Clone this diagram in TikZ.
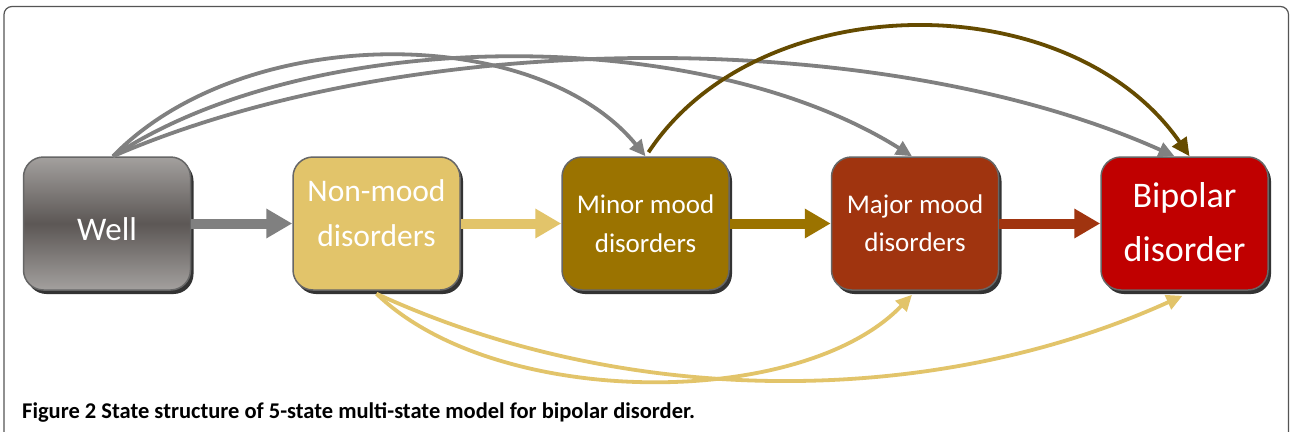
\documentclass[tikz,border=0pt]{standalone}
\usepackage{fontspec}
\setmainfont{Carlito}
\usetikzlibrary{arrows.meta,shadows}
\definecolor{cwellA}{HTML}{A3A09E}
\definecolor{cwellB}{HTML}{5C5755}
\definecolor{cnon}{HTML}{E2C46A}
\definecolor{cminor}{HTML}{9B7300}
\definecolor{cmajor}{HTML}{A0340F}
\definecolor{cbip}{HTML}{C00000}
\definecolor{cgray}{HTML}{808080}
\definecolor{cbrown}{HTML}{654B00}
\definecolor{cframe}{HTML}{555555}
\tikzset{
  statebox/.style={rounded corners=20pt, draw=black!60, line width=1.5pt,
    minimum width=167pt, minimum height=133pt, inner sep=0pt,
    drop shadow={shadow xshift=3pt, shadow yshift=-4pt, fill=black!80, opacity=1}},
  statetxt/.style={text=white, align=center, inner sep=0pt},
  bigarrow/.style={line width=10pt, -{Triangle[length=26pt,width=28pt]}},
  curvearrow/.style={line width=3.8pt, -{Triangle[length=16pt,width=15pt]}},
}
\begin{document}
\begin{tikzpicture}[x=1pt,y=1pt]
\useasboundingbox (0,0) rectangle (1290,-431);
\clip (0,0) rectangle (1290,-431);
\fill[white] (0,0) rectangle (1290,-431);
\draw[cframe, line width=1.2pt, rounded corners=8pt] (4,-445) -- (4,-6.5) -- (1288.5,-6.5) -- (1288.5,-445);

\node[statebox, top color=cwellA, bottom color=cwellA, middle color=cwellB] (well) at (107,-223.5) {};
\node[statebox, fill=cnon] (nonmood) at (376.5,-223.5) {};
\node[statebox, fill=cminor] (minor) at (645.5,-223.5) {};
\node[statebox, fill=cmajor] (major) at (915,-223.5) {};
\node[statebox, fill=cbip] (bipolar) at (1184.5,-223.5) {};

\node[statetxt, font=\fontsize{33}{40}\selectfont] (wellT) at ([yshift=-6pt]well.center) {Well};
\node[statetxt, font=\fontsize{31.5}{45}\selectfont] (nonmoodT) at ([yshift=10pt]nonmood.center) {Non-mood\\disorders};
\node[statetxt, font=\fontsize{27}{39}\selectfont] (minorT) at ([yshift=0pt]minor.center) {Minor mood\\disorders};
\node[statetxt, font=\fontsize{27}{38}\selectfont] (majorT) at ([yshift=0pt]major.center) {Major mood\\disorders};
\node[statetxt, font=\fontsize{36}{54}\selectfont] (bipolarT) at ([yshift=1pt]bipolar.center) {Bipolar\\disorder};

\draw[bigarrow, cgray] (well.east) -- (nonmood.west);
\draw[bigarrow, cnon] (nonmood.east) -- (minor.west);
\draw[bigarrow, cminor] (minor.east) -- (major.west);
\draw[bigarrow, cmajor] (major.east) -- (bipolar.west);

\draw[curvearrow, cgray] ([xshift=6pt]well.north) .. controls +(130,134) and +(-110,134) .. (minor.north);
\draw[curvearrow, cgray] ([xshift=6pt]well.north) .. controls +(200,132) and +(-210,132) .. ([xshift=-3pt]major.north);
\draw[curvearrow, cgray] ([xshift=6pt]well.north) .. controls +(300,130) and +(-290,130) .. ([xshift=-10pt]bipolar.north);
\draw[curvearrow, cbrown, -{Triangle[length=18pt,width=17pt]}] ([xshift=3pt,yshift=4pt]minor.north) .. controls +(110,167) and +(-120,173) .. ([xshift=5pt]bipolar.north);
\draw[curvearrow, cnon] ([yshift=-3pt]nonmood.south) .. controls +(120,-116) and +(-110,-115) .. ([xshift=-3pt,yshift=-4pt]major.south);
\draw[curvearrow, cnon] ([yshift=-3pt]nonmood.south) .. controls +(250,-115) and +(-250,-113) .. ([xshift=-2pt,yshift=-5pt]bipolar.south);

\node[anchor=base west, inner sep=0pt, font=\fontsize{22.5}{24}\selectfont\bfseries] (caption) at (22,-418) {Figure 2 State structure of 5-state multi-state model for bipolar disorder.};
\end{tikzpicture}
\end{document}
